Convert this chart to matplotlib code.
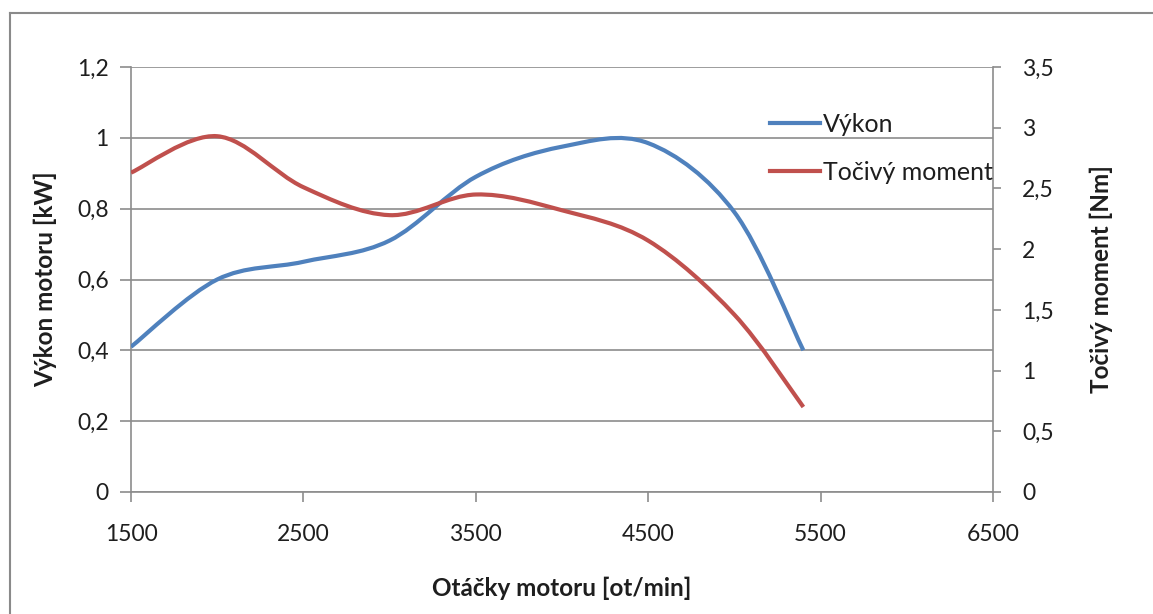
import matplotlib
matplotlib.use("Agg")
import matplotlib.pyplot as plt
import numpy as np
from matplotlib.path import Path
from matplotlib.patches import PathPatch
from matplotlib.lines import Line2D

plt.rcParams['font.family'] = ['Lato', 'DejaVu Sans']

# otacky motoru [ot/min]
rpm = [1500, 2000, 2500, 3000, 3500, 4000, 4500, 5000, 5400]
# vykon [kW]
vykon = [0.41, 0.60, 0.65, 0.71, 0.89, 0.975, 0.985, 0.79, 0.40]
# tocivy moment [Nm]
moment = [2.63, 2.93, 2.51, 2.28, 2.45, 2.32, 2.07, 1.46, 0.70]

x_ticks = [1500, 2500, 3500, 4500, 5500, 6500]
left_ticks = [0, 0.2, 0.4, 0.6, 0.8, 1.0, 1.2]
left_labels = ['0', '0,2', '0,4', '0,6', '0,8', '1', '1,2']
right_ticks = [0, 0.5, 1, 1.5, 2, 2.5, 3, 3.5]
right_labels = ['0', '0,5', '1', '1,5', '2', '2,5', '3', '3,5']

BLUE = '#4F81BD'
RED = '#C0504D'
GRID = '#8c8c8c'
TXT = '#1e1e1e'


def smooth_path(xs, ys):
    # excel-like smoothed line: catmull-rom as cubic bezier segments
    p = np.column_stack([xs, ys]).astype(float)
    pts = np.vstack([p[0], p, p[-1]])
    verts = [p[0]]
    codes = [Path.MOVETO]
    for i in range(1, len(pts) - 2):
        p0, p1, p2, p3 = pts[i - 1], pts[i], pts[i + 1], pts[i + 2]
        verts += [p1 + (p2 - p0) / 6, p2 - (p3 - p1) / 6, p2]
        codes += [Path.CURVE4] * 3
    return Path(verts, codes)


fig = plt.figure(figsize=(11.53, 6.14), dpi=100)
# outer chart border (left and top visible)
bx, by = 10 / 1153, 1 - 13 / 614
fig.add_artist(Line2D([bx, bx], [0, by], transform=fig.transFigure,
                      color='#8a8a8a', lw=1.5))
fig.add_artist(Line2D([bx, 1], [by, by], transform=fig.transFigure,
                      color='#8a8a8a', lw=1.5))

ax = fig.add_axes([131 / 1153, 1 - 492 / 614, 862 / 1153, 425 / 614])
ax2 = ax.twinx()

ax.set_xlim(1500, 6500)
ax.set_ylim(0, 1.2)
ax2.set_ylim(0, 3.5)

ax.add_patch(PathPatch(smooth_path(rpm, vykon), fill=False, edgecolor=BLUE,
                       lw=3, capstyle='butt', joinstyle='round', zorder=3))
ax2.add_patch(PathPatch(smooth_path(rpm, moment), fill=False, edgecolor=RED,
                        lw=3, capstyle='butt', joinstyle='round', zorder=3))

ax.set_xticks(x_ticks)
ax.set_xticklabels([str(v) for v in x_ticks])
ax.set_yticks(left_ticks)
ax.set_yticklabels(left_labels)
ax2.set_yticks(right_ticks)
ax2.set_yticklabels(right_labels)

ax.grid(axis='y', color=GRID, lw=1.2)
ax.set_axisbelow(True)

for a in (ax, ax2):
    for s in a.spines.values():
        s.set_visible(False)
ax.spines['left'].set_visible(True)
ax.spines['bottom'].set_visible(True)
ax2.spines['right'].set_visible(True)
for s in (ax.spines['left'], ax.spines['bottom'], ax2.spines['right']):
    s.set_color(GRID)
    s.set_linewidth(1.2)

ax.tick_params(axis='x', direction='out', length=7, width=1.2, color=GRID,
               labelsize=16.5, pad=16, labelcolor=TXT)
ax.tick_params(axis='y', direction='out', length=8, width=1.2, color=GRID,
               labelsize=16.5, pad=8, labelcolor=TXT)
ax2.tick_params(axis='y', direction='out', length=6, width=1.2, color=GRID,
                labelsize=16.5, pad=15, labelcolor=TXT)

ax.set_xlabel('Otáčky motoru [ot/min]', fontsize=17.5, fontweight='bold',
              labelpad=23, color=TXT)
ax.set_ylabel('Výkon motoru [kW]', fontsize=17.5, fontweight='bold',
              labelpad=14, color=TXT)
ax2.set_ylabel('Točivý moment [Nm]', fontsize=17.5, fontweight='bold',
               labelpad=26, color=TXT)

handles = [Line2D([], [], color=BLUE, lw=3), Line2D([], [], color=RED, lw=3)]
leg = ax2.legend(handles, ['Výkon', 'Točivý moment'], loc='upper left',
                 bbox_to_anchor=(0.73, 0.915), frameon=False, fontsize=18,
                 handlelength=2.0, handletextpad=0.1, labelspacing=1.0,
                 borderaxespad=0)
for t in leg.get_texts():
    t.set_color(TXT)

fig.savefig('out.png', dpi=100, facecolor='white')
